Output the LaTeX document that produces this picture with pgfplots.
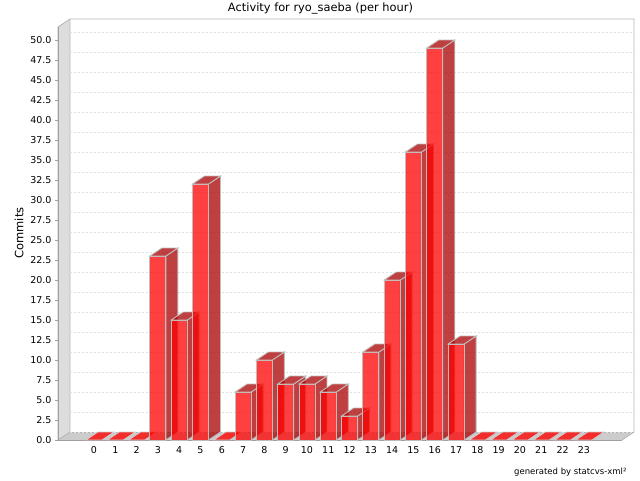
\documentclass[border=0pt]{standalone}
\usepackage{fontspec}
\setmainfont{DejaVu Sans}
\usepackage{pgfplots}
\pgfplotsset{compat=1.18}
\definecolor{frontred}{RGB}{255,0,0}
\definecolor{sidered}{RGB}{170,0,0}
\definecolor{baredge}{RGB}{192,188,188}
\definecolor{wallgray}{RGB}{221,221,221}
\definecolor{floorgray}{RGB}{204,204,204}
\definecolor{edgegray}{RGB}{180,180,180}
\definecolor{axisgray}{RGB}{160,160,160}
\definecolor{gridgray}{RGB}{224,224,224}

% one 3d bar, origin = top centre of the front face, 1 unit = 8px
\pgfdeclareplotmark{bar3d}{%
  \pgfmathsetlengthmacro{\barh}{\h*8pt}%
  \ifdim\barh<0.1pt
    \draw[draw=floorgray,line width=.8pt,fill=frontred,fill opacity=.78]
      (-8pt,0pt) -- (4pt,8pt) -- (20pt,8pt) -- (8pt,0pt) -- cycle;
  \else
    \draw[draw=baredge,line width=.9pt,fill=sidered,fill opacity=.75]
      (8pt,0pt) -- (20pt,8pt) -- (20pt,8pt-\barh) -- (8pt,-\barh) -- cycle;
    \draw[draw=baredge,line width=.9pt,fill=sidered,fill opacity=.75]
      (-8pt,0pt) -- (4pt,8pt) -- (20pt,8pt) -- (8pt,0pt) -- cycle;
    \draw[draw=baredge,line width=.9pt,fill=frontred,fill opacity=.75]
      (-8pt,-\barh) rectangle (8pt,0pt);
  \fi
}

\pgfplotstableread{
hour commits
0 0
1 0
2 0
3 23
4 15
5 32
6 0
7 6
8 10
9 7
10 7
11 6
12 3
13 11
14 20
15 36
16 49
17 12
18 0
19 0
20 0
21 0
22 0
23 0
}\hourdata

\begin{document}
\begin{tikzpicture}[x=1pt,y=1pt]
\path[use as bounding box] (-58,-40) rectangle (582,440);
% walls and floor
\fill[wallgray] (0,0) -- (12,8) -- (12,421) -- (0,413) -- cycle;
\fill[floorgray] (0,0) -- (564,0) -- (576,8) -- (12,8) -- cycle;
\draw[edgegray,line width=.8pt] (0,0) -- (0,413) -- (12,421) -- (576,421) -- (576,8) -- (564,0);
\draw[edgegray,line width=.8pt] (12,421) -- (12,8) -- (0,0);
\draw[edgegray,line width=.8pt] (12,8) -- (576,8);
\foreach \k in {1,...,20}
  \draw[gridgray,dash pattern=on 2pt off 2pt,line width=.5pt] (0,20*\k) -- (12,20*\k+8);
% back wall grid
\begin{axis}[
  at={(12pt,8pt)},anchor=south west,
  scale only axis,width=564pt,height=413pt,
  xmin=-1.69,xmax=24.79,ymin=0,ymax=51.625,
  axis line style={draw=none},
  xtick=\empty,
  yticklabels={},
  y tick style={draw=none},
  ytick distance=2.5,
  ymajorgrids,
  grid style={gridgray,dash pattern=on 2pt off 2pt,line width=.5pt},
]
\addplot[draw=none] coordinates {(0,0)};
\end{axis}
\begin{axis}[
  at={(0pt,0pt)},anchor=south west,
  scale only axis,width=564pt,height=413pt,
  xmin=-1.69,xmax=24.79,ymin=0,ymax=51.625,
  clip=false,
  axis x line=bottom,axis y line=left,
  axis line style={axisgray,line width=.8pt,-},
  xtick=data,
  xticklabels from table={\hourdata}{hour},
  x tick style={draw=none},
  ytick distance=2.5,
  y tick style={axisgray,line width=.7pt},
  tick align=outside,
  major tick length=3pt,
  yticklabel style={/pgf/number format/.cd,fixed,fixed zerofill,precision=1,assume math mode=true},
  tick label style={font=\fontsize{9.5}{11}\selectfont,black},
]
\addplot[only marks,scatter,scatter src=y,
  visualization depends on={y \as \h},
  mark=bar3d,
  scatter/@pre marker code/.code={},
  scatter/@post marker code/.code={},
] table[x=hour,y=commits] {\hourdata};
\end{axis}
\node[font=\fontsize{11.4}{13}\selectfont] at (262.5,431.5) {Activity for ryo\_saeba (per hour)};
\node[rotate=90,font=\fontsize{11.5}{13}\selectfont] at (-39,207) {Commits};
\node[anchor=east,font=\fontsize{8.5}{10}\selectfont] at (572,-32) {generated by statcvs-xml²};
\end{tikzpicture}
\end{document}
